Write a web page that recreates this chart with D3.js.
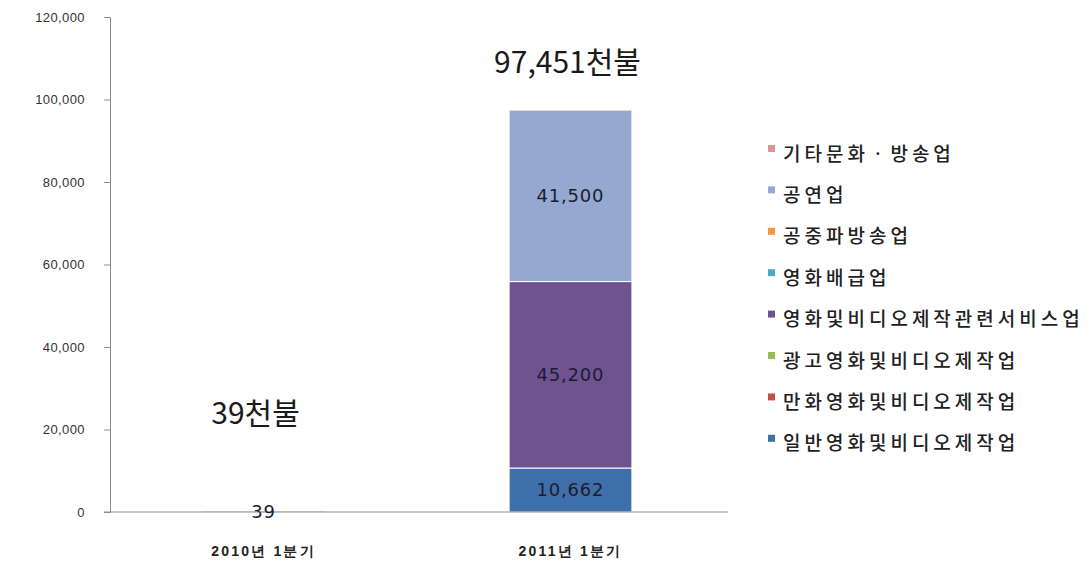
<!DOCTYPE html>
<html>
<head>
<meta charset="utf-8">
<script src="https://cdn.jsdelivr.net/npm/d3@7"></script>
<style>
  body { margin: 0; background: #fff; }
  svg { font-family: "DejaVu Sans", "Noto Sans CJK KR", sans-serif; }
</style>
</head>
<body>
<div id="chart"></div>
<script>
// Categories on the x axis
const periods = ["2010년 1분기", "2011년 1분기"];

// Series, stacked bottom to top
const seriesNames = [
  "일반영화및비디오제작업",
  "만화영화및비디오제작업",
  "광고영화및비디오제작업",
  "영화및비디오제작관련서비스업",
  "영화배급업",
  "공중파방송업",
  "공연업",
  "기타문화ㆍ방송업"
];
const seriesColors = ["#3f6fa9", "#c0504d", "#9bbb59", "#6f5391", "#4bacc6", "#f79646", "#94a8d0", "#d99694"];

// Values per series: [2010 Q1, 2011 Q1] (thousand USD)
const general   = [39, 10662];
const animation = [0, 0];
const advert    = [0, 0];
const service   = [0, 45200];
const distrib   = [0, 0];
const broadcast = [0, 0];
const perform   = [0, 41500];
const otherCult = [0, 89];
const seriesValues = [general, animation, advert, service, distrib, broadcast, perform, otherCult];

// Totals shown above the bars
const totalLabels = ["39천불", "97,451천불"];
const yTicks = [0, 20000, 40000, 60000, 80000, 100000, 120000];

const width = 1091, height = 568;
const svg = d3.select("#chart").append("svg")
  .attr("width", width).attr("height", height);

const x = d3.scaleBand().domain(periods).range([110, 724]).paddingInner(0.6).paddingOuter(0.3);
const y = d3.scaleLinear().domain([0, 120000]).range([512, 17]);

const table = periods.map((p, i) => {
  const row = { period: p };
  seriesNames.forEach((s, j) => row[s] = seriesValues[j][i]);
  return row;
});
const stacked = d3.stack().keys(seriesNames)(table);

// bars
const bw = x.bandwidth();
svg.append("g").selectAll("g")
  .data(stacked)
  .join("g")
  .attr("fill", (d, i) => seriesColors[i])
  .selectAll("rect")
  .data(d => d.filter(s => s[1] - s[0] > 0).map(s => ({ s, period: s.data.period })))
  .join("rect")
  .attr("x", d => x(d.period))
  .attr("y", d => y(d.s[1]))
  .attr("width", bw)
  .attr("height", d => y(d.s[0]) - y(d.s[1]))
  .attr("stroke", "#fff")
  .attr("stroke-width", d => (d.s[1] - d.s[0]) > 1000 ? 1 : 0);

// y axis
const yAxis = svg.append("g")
  .attr("transform", "translate(110,0)")
  .call(d3.axisLeft(y).tickValues(yTicks).tickFormat(d3.format(",")).tickSize(6).tickPadding(19));
yAxis.select(".domain").attr("stroke", "#8c8c8c");
yAxis.selectAll(".tick line").attr("stroke", "#8c8c8c");
yAxis.selectAll(".tick text").attr("fill", "#333").style("font-size", "13px").style("letter-spacing", "0.4px");

// x axis
const xAxis = svg.append("g")
  .attr("transform", "translate(0,512)")
  .call(d3.axisBottom(x).tickSize(0).tickPadding(34));
xAxis.select(".domain").attr("stroke", "#8c8c8c").attr("d", "M104,0H728");
xAxis.selectAll(".tick text").attr("fill", "#222")
  .style("font-size", "14px").style("font-weight", "bold").style("letter-spacing", "2.2px");

// segment labels (only for visible segments)
const segLabels = [];
stacked.forEach((layer, j) => {
  layer.forEach((s, i) => {
    const v = s[1] - s[0];
    if (v >= 10000) segLabels.push({ period: periods[i], mid: (s[0] + s[1]) / 2, v });
  });
});
svg.append("g").selectAll("text")
  .data(segLabels)
  .join("text")
  .attr("x", d => x(d.period) + bw / 2)
  .attr("y", d => y(d.mid))
  .attr("dy", "0.35em")
  .attr("text-anchor", "middle")
  .attr("fill", "#1c1c30")
  .style("font-size", "18px")
  .style("letter-spacing", "0.8px")
  .text(d => d3.format(",")(d.v));

// small value at the base of the 2010 bar
svg.append("text")
  .attr("x", x(periods[0]) + bw / 2)
  .attr("y", y(0))
  .attr("dy", "0.35em")
  .attr("text-anchor", "middle")
  .attr("fill", "#1c1c30")
  .style("font-size", "18px")
  .style("letter-spacing", "0.8px")
  .text(d3.format(",")(general[0]));

// totals
svg.append("g").selectAll("text")
  .data(periods)
  .join("text")
  .attr("x", (d, i) => x(d) + bw / 2 + (i === 0 ? -8 : -3))
  .attr("y", (d, i) => i === 0 ? 424 : 73)
  .attr("text-anchor", "middle")
  .attr("fill", "#1a1a1a")
  .style("font-family", "'Noto Sans CJK KR', sans-serif")
  .style("font-size", "30px")
  .text((d, i) => totalLabels[i]);

// legend (reverse order: top series first)
const legendItems = seriesNames.map((n, i) => ({ n, c: seriesColors[i] })).reverse();
const legend = svg.append("g").attr("transform", "translate(768,153)");
const row = legend.selectAll("g")
  .data(legendItems)
  .join("g")
  .attr("transform", (d, i) => `translate(0,${i * 41.4})`);
row.append("rect")
  .attr("x", 0).attr("y", -8)
  .attr("width", 7).attr("height", 7)
  .attr("fill", d => d.c);
row.append("text")
  .attr("x", 15).attr("y", 1)
  .attr("dy", "0.35em")
  .attr("fill", "#222")
  .style("font-family", "'Noto Sans CJK KR', sans-serif")
  .style("font-size", "19px")
  .style("font-weight", "500")
  .style("letter-spacing", "4px")
  .text(d => d.n);
</script>
</body>
</html>
